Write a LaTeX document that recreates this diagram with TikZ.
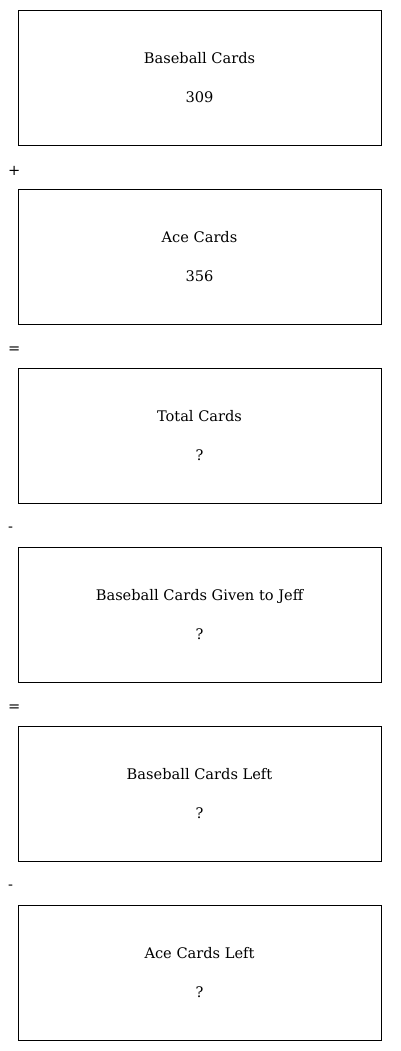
\documentclass[tikz,border=0pt]{standalone}
\usepackage{fontspec}
\setmainfont{DejaVu Serif}
\begin{document}
\begin{tikzpicture}[x=1pt,y=-1pt,
  cardbox/.style={draw,thin,minimum width=363pt,minimum height=135pt,align=center,inner sep=0pt,font=\fontsize{14.6}{17}\selectfont},
  opsign/.style={anchor=west,inner sep=0pt,font=\fontsize{14.6}{17}\selectfont}]
 \useasboundingbox (0,0) rectangle (400,1051);
 \foreach \i/\name/\title/\val in {0/baseball/Baseball Cards/309,1/ace/Ace Cards/356,2/total/Total Cards/?,3/given/Baseball Cards Given to Jeff/?,4/left/Baseball Cards Left/?,5/aceleft/Ace Cards Left/?}
  \node[cardbox] (\name) at (199.5,77.5+179*\i) {\raisebox{-1pt}{\title}\\[22pt]\raisebox{-1pt}{\val}};
 \foreach \i/\name/\op in {0/plus/+,1/eqa/=,2/minusa/-,3/eqb/=,4/minusb/-}
  \node[opsign] (\name) at (8,171+179*\i) {\op};
\end{tikzpicture}
\end{document}
